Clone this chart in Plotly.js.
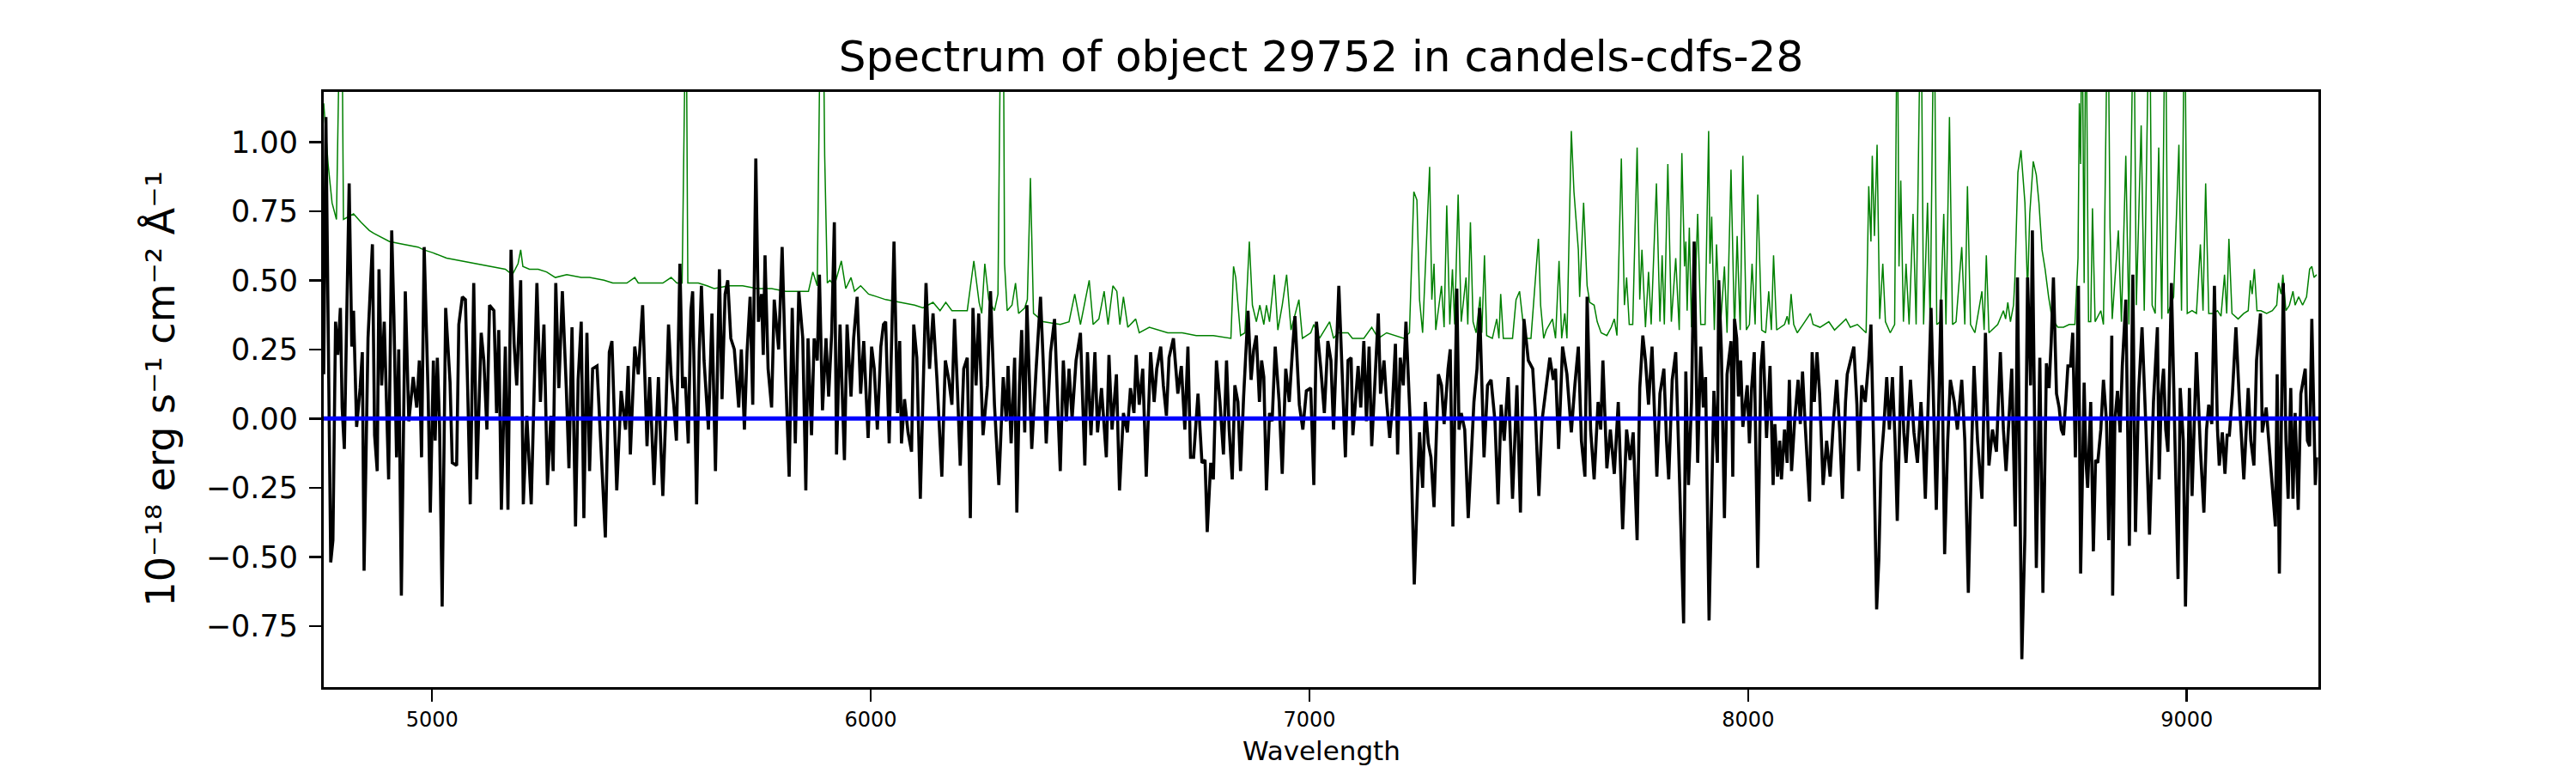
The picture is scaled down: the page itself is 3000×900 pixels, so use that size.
<!DOCTYPE html>
<html><head><meta charset="utf-8">
<script src="https://cdn.plot.ly/plotly-3.0.1.min.js"></script>
<style>html,body{margin:0;padding:0;background:#fff}</style>
</head><body>
<div id="chart" style="width:3000px;height:900px"></div>
<script>
// Observed flux (black), wavelengths in Angstrom
const fluxWave = [
4753,4758,4769,4774,4780,4785,4791,4795,4800,4804,4811,4817,4821,4828,4836,4841,4845,4854,4864,4869,4875,4879,4885,4891,4901,4908,4913,4919,4924,4930,4939,4947,4957,4965,4971,4976,4982,4991,4996,5003,5007,5012,5017,5023,5031,5041,5046,5056,5061,5069,5076,5081,5087,5095,5102,5112,5118,5125,5131,5141,5147,5152,5158,5167,5173,5180,5187,5193,5202,5208,5216,5226,5239,5247,5255,5263,5271,5276,5282,5289,5297,5306,5312,5319,5327,5333,5340,5346,5353,5359,5366,5376,5385,5395,5404,5410,5421,5431,5441,5447,5452,5462,5470,5480,5490,5496,5506,5516,
5521,5526,5532,5539,5545,5551,5557,5565,5571,5577,5584,5590,5594,5603,5609,5614,5620,5630,5638,5646,5655,5661,5668,5674,5681,5689,5699,5705,5712,5718,5725,5731,5738,5744,5751,5755,5759,5766,5774,5780,5790,5798,5806,5814,5821,5828,5836,5845,5852,5857,5865,5871,5878,5883,5890,5898,5904,5911,5917,5922,5930,5940,5946,5955,5961,5969,5977,5984,5994,6002,6008,6015,6023,6029,6034,6042,6053,6061,6066,6070,6077,6085,6093,6098,6105,6113,6119,6126,6134,6142,6151,6162,6170,6178,6185,6191,6198,6204,6212,6220,6227,6233,6240,6246,6256,6266,6273,6282,6292,
6302,6309,6313,6320,6328,6333,6339,6344,6351,6356,6363,6367,6377,6387,6393,6400,6410,6419,6426,6432,6439,6446,6452,6459,6468,6478,6488,6494,6502,6511,6517,6526,6537,6543,6550,6560,6567,6576,6585,6592,6600,6605,6612,6620,6628,6638,6646,6652,6661,6667,6674,6680,6690,6700,6708,6716,6723,6729,6736,6746,6755,6762,6767,6775,6781,6788,6796,6804,6811,6817,6824,6830,6837,6843,6850,6860,6867,6873,6879,6886,6891,6896,6902,6909,6915,6922,6931,6938,6946,6954,6961,6967,6977,6985,6993,7003,7010,7016,7026,7034,7042,7049,7055,7067,
7082,7088,7095,7099,7104,7111,7117,7124,7130,7136,7142,7149,7157,7162,7170,7176,7183,7189,7196,7201,7207,7214,7220,7230,7239,7247,7251,7258,7264,7271,7277,7284,7294,7301,7307,7312,7316,7321,7327,7336,7341,7346,7354,7362,7369,7375,7382,7388,7398,7406,7414,7423,7430,7437,7444,7449,7453,7463,7473,7481,7489,7499,7509,7515,7523,7530,7538,7548,7556,7561,7568,7577,7587,7597,7605,7613,7620,7628,7633,7641,7649,7658,7664,7669,7678,7686,7695,7704,7714,7723,7731,7738,7747,7753,7760,7766,7773,7781,7788,7792,7799,7808,7814,7819,7827,7835,
7842,7853,7858,7864,7871,7877,7885,7892,7898,7903,7911,7922,7930,7933,7939,7946,7952,7961,7965,7969,7974,7978,7983,7988,7998,8003,8008,8014,8022,8029,8034,8042,8050,8057,8061,8067,8072,8076,8083,8089,8094,8099,8106,8114,8119,8124,8130,8140,8146,8151,8157,8163,8171,8179,8187,8194,8202,8209,8215,8222,8226,8233,8241,8248,8252,8259,8267,8275,8280,8287,8293,8298,8303,8309,8316,8322,8329,8335,8340,8349,8355,8360,8370,8378,8386,8394,8399,8404,8411,8417,8429,8435,8440,8448,8455,8461,8470,8477,8487,8494,8502,8510,8515,8523,8533,8541,8549,8557,8566,8575,8582,8588,8595,8601,8609,8614,
8624,8631,8637,8644,8648,8657,8665,8672,8680,8686,8691,8696,8703,8709,8714,8719,8724,8729,8735,8740,8746,8753,8758,8766,8770,8774,8781,8787,8792,8797,8804,8810,8817,8822,8829,8831,8836,8842,8848,8853,8861,8869,8877,8883,8890,8898,8907,8915,8924,8933,8937,8942,8947,8952,8957,8965,8972,8980,8985,8992,8997,9006,9012,9022,9031,9039,9045,9050,9057,9063,9070,9074,9081,9087,9092,9097,9104,9112,9120,9130,9140,9146,9153,9159,9168,9172,9181,9192,9202,9206,9211,9220,9226,9231,9237,9242,9247,9254,9260,9270,9275,9280,9285,9293,9296
];
const fluxValue = [
0.16,1.09,-0.52,-0.44,0.35,0.23,0.40,0.04,-0.11,0.28,0.85,0.26,0.39,-0.03,0.11,0.24,-0.55,0.29,0.63,-0.06,-0.19,0.54,0.12,0.35,-0.22,0.68,0.37,-0.14,0.25,-0.64,0.46,-0.01,0.15,0.04,0.21,-0.14,0.62,0.09,-0.34,0.21,-0.08,0.22,-0.02,-0.68,0.40,0.13,-0.16,-0.17,0.34,0.44,0.43,0.12,-0.31,0.49,-0.22,0.31,0.21,-0.04,0.41,0.39,0.02,0.32,-0.33,0.26,-0.33,0.61,0.27,0.12,0.50,-0.31,0.01,-0.31,0.49,0.06,0.34,-0.24,0.01,-0.19,0.49,0.11,0.46,0.11,-0.18,0.33,-0.39,0.14,0.35,-0.36,0.31,-0.19,0.18,0.19,-0.11,-0.43,0.24,0.28,-0.26,0.10,-0.04,0.19,-0.13,0.26,0.16,0.41,-0.10,0.15,-0.24,0.15,
-0.08,-0.28,-0.02,0.34,0.15,0.05,-0.08,0.56,0.11,0.15,-0.09,0.39,0.46,-0.31,0.24,0.48,0.21,-0.04,0.38,-0.19,0.54,0.07,0.45,0.50,0.29,0.25,0.04,0.25,-0.04,0.24,0.44,0.05,0.94,0.35,0.45,0.23,0.59,0.18,0.04,0.43,0.25,0.62,0.16,-0.21,0.40,-0.09,0.46,0.29,-0.26,0.29,-0.06,0.29,0.21,0.52,0.03,0.29,0.08,0.31,0.71,-0.13,0.34,-0.15,0.34,0.08,0.29,0.44,0.09,0.28,-0.07,0.26,0.18,-0.04,0.26,0.34,0.35,-0.09,0.64,0.02,0.28,-0.09,0.07,-0.05,-0.12,0.34,0.22,-0.29,0.08,0.49,0.18,0.38,0.14,-0.21,0.21,0.14,0.05,0.36,0.09,-0.17,0.18,0.22,-0.36,0.40,0.12,0.38,-0.06,0.12,0.46,0.05,-0.24,
0.15,-0.01,0.19,-0.09,0.22,-0.34,0.12,0.32,-0.05,0.41,0.08,-0.11,0.18,0.44,0.21,-0.09,0.24,0.36,0.06,-0.19,0.21,-0.01,0.18,0.00,0.21,0.31,-0.17,0.24,-0.06,0.24,-0.05,0.11,-0.14,0.23,-0.04,0.16,-0.26,0.02,-0.05,0.11,0.02,0.23,0.05,0.18,-0.21,0.24,0.06,0.18,0.26,0.12,0.01,0.22,0.29,0.09,0.19,-0.04,0.26,-0.14,-0.14,0.09,-0.16,-0.15,-0.41,-0.16,-0.22,0.21,0.06,-0.13,0.21,-0.04,-0.22,0.12,0.06,-0.19,0.08,0.39,0.14,0.25,0.30,0.06,0.21,0.15,-0.26,0.02,-0.01,0.26,0.06,-0.20,0.18,0.06,0.24,0.37,0.05,-0.04,0.10,0.11,-0.24,0.35,0.18,0.02,0.28,0.21,-0.04,0.48,
-0.14,0.21,0.22,-0.06,0.04,0.19,0.04,0.28,-0.01,0.26,-0.10,0.12,0.38,0.09,0.21,0.06,-0.07,0.04,0.27,-0.13,0.22,0.12,0.35,-0.02,-0.60,-0.22,-0.05,-0.25,0.06,-0.09,-0.14,-0.32,0.16,0.12,-0.02,0.09,0.18,0.25,-0.39,0.47,-0.04,0.02,-0.04,-0.36,-0.15,0.06,0.18,0.40,-0.14,0.12,0.14,-0.01,-0.31,0.05,-0.08,0.04,0.15,-0.29,0.12,-0.34,0.36,0.21,0.18,0.02,-0.28,-0.01,0.09,0.22,0.14,0.18,-0.11,0.26,0.16,-0.05,0.12,0.26,-0.08,-0.21,0.44,-0.04,-0.22,0.06,-0.04,0.21,-0.18,-0.04,-0.20,0.06,-0.40,-0.04,-0.15,-0.05,-0.44,0.11,0.30,0.21,0.05,0.26,-0.04,-0.21,0.09,0.18,-0.08,-0.22,0.14,0.24,
-0.13,-0.74,0.17,-0.24,0.06,0.64,-0.16,0.26,0.04,0.15,-0.73,0.10,-0.16,0.50,0.25,-0.36,0.16,0.28,-0.21,0.36,0.29,0.08,0.21,-0.03,0.12,-0.09,0.11,0.24,-0.54,0.18,0.28,-0.07,0.19,-0.24,-0.02,-0.21,-0.08,-0.22,-0.04,-0.16,0.14,-0.19,-0.01,0.14,-0.02,0.17,-0.02,-0.30,0.24,0.06,0.24,0.09,-0.24,-0.08,-0.21,-0.02,0.14,-0.05,-0.29,0.06,0.16,0.21,0.26,0.05,-0.19,0.12,0.06,0.21,0.34,-0.15,-0.69,-0.51,-0.16,-0.04,0.15,-0.04,0.15,-0.08,-0.37,0.19,-0.05,-0.16,0.14,-0.05,-0.16,0.06,-0.08,-0.29,0.06,0.40,-0.33,0.06,0.43,-0.49,-0.08,0.14,0.06,-0.04,0.14,-0.08,-0.63,-0.08,0.19,-0.08,-0.29,0.31,-0.17,-0.04,-0.12,0.24,-0.04,-0.19,-0.01,0.18,-0.39,0.51,
-0.87,-0.42,0.51,0.12,0.68,-0.54,0.22,-0.63,0.20,0.11,0.28,0.51,0.09,0.04,-0.04,-0.06,0.06,0.19,0.19,0.31,-0.14,0.48,-0.56,0.13,-0.15,-0.25,0.06,-0.48,-0.15,-0.16,-0.04,0.14,-0.01,-0.44,0.30,-0.64,-0.01,0.10,-0.05,0.19,0.43,-0.46,0.52,-0.41,0.09,0.33,-0.04,-0.42,0.06,0.33,-0.22,0.09,0.18,-0.04,-0.12,0.49,-0.01,-0.58,0.11,-0.08,-0.68,0.11,-0.28,0.24,-0.11,-0.34,-0.04,0.05,-0.02,0.48,-0.04,-0.17,-0.05,-0.20,-0.06,-0.06,0.09,0.33,0.06,-0.22,0.11,-0.08,-0.17,0.21,0.38,-0.05,0.04,-0.17,-0.39,0.16,-0.56,0.49,-0.08,-0.29,0.11,-0.29,0.02,-0.33,0.09,0.18,-0.08,-0.10,0.36,-0.24,-0.14
];
// Noise / sky spectrum (green)
const skyWave = [
4753,4763,4772,4782,4791,4794,4798,4821,4838,4857,4867,4880,4903,4935,4968,4981,5001,5033,5066,5098,5131,5167,5183,5196,5202,5207,5222,5242,5261,5281,5307,5340,5359,5392,5412,5444,5462,5470,5503,
5526,5545,5558,5570,5575,5579,5583,5594,5607,5627,5643,5676,5708,5741,5774,5806,5839,5858,5868,5878,5886,5891,5895,5901,5907,5917,5933,5943,5955,5963,5977,5995,6015,6034,6067,6100,6119,6142,6158,6171,6185,6204,6220,6235,6247,6253,6260,6269,6282,6290,
6297,6302,6305,6311,6322,6330,6337,6351,6357,6364,6371,6393,6432,6452,6465,6478,6498,6507,6520,6532,6541,6552,6561,6568,6576,6586,6604,6612,6635,6677,6710,6742,6781,6821,6827,6832,6843,6853,6863,6870,6879,6887,6896,6902,6909,6920,6928,6938,6948,6958,6976,6984,7003,7010,7023,7046,7055,
7065,7088,7098,7124,7142,7157,7176,7196,7215,7228,7238,7245,7251,7258,7274,7279,7284,7288,7301,7307,7313,7320,7326,7331,7339,7346,7357,7361,7367,7373,7380,7389,7393,7399,7404,7417,7427,7432,7436,7442,7463,7471,7479,7486,7492,7505,7522,7527,7534,7540,7554,7561,7569,7575,7582,7587,7597,7603,7613,7616,7625,7633,7639,7649,7656,7665,7678,7688,7695,7701,7711,7718,7723,7729,7737,7747,7753,7758,7766,7773,7779,7791,7799,7804,7809,7817,7825,7835,
7843,7849,7855,7858,7861,7866,7871,7877,7885,7892,7902,7910,7913,7917,7923,7928,7936,7946,7952,7961,7969,7975,7982,7988,7996,8003,8009,8016,8022,8031,8040,8047,8053,8058,8065,8083,8089,8093,8098,8104,8112,8125,8133,8142,8148,8164,8184,8197,8223,8233,8249,8269,8275,8280,8283,8288,8294,8300,8307,8313,8324,8334,8340,8344,8348,8354,8360,8367,8376,8383,8394,8400,8409,8415,8424,8430,8438,8446,8451,8459,8466,8474,8487,8494,8500,8507,8517,8533,8538,8543,8549,8569,8582,8587,8592,8598,8605,
8608,8615,8622,8631,8637,8642,8650,8657,8663,8670,8677,8685,8693,8706,8719,8732,8745,8752,8755,8758,8761,8766,8770,8776,8781,8785,8791,8804,8810,8820,8825,8830,8844,8851,8861,8868,8879,8885,8896,8903,8915,8921,8928,8936,8943,8951,8957,8970,8982,8988,8995,9001,9012,9022,9031,9037,9043,9050,9061,9070,9078,9086,9091,9096,9103,9117,9130,9140,9145,9149,9154,9160,9169,9182,9195,9205,9209,9215,9219,9226,9234,9242,9247,9255,9264,9273,9280,9285,9290,9296
];
const skyValue = [
1.14,0.92,0.78,0.72,1.6,1.6,0.72,0.74,0.71,0.68,0.67,0.66,0.64,0.63,0.62,0.61,0.60,0.58,0.57,0.56,0.55,0.54,0.52,0.56,0.61,0.55,0.54,0.54,0.53,0.51,0.52,0.51,0.51,0.50,0.49,0.49,0.51,0.49,0.49,
0.49,0.51,0.49,0.49,1.6,1.6,0.49,0.49,0.49,0.48,0.47,0.48,0.48,0.47,0.47,0.46,0.46,0.46,0.53,0.48,1.6,1.6,0.95,0.49,0.50,0.48,0.57,0.47,0.51,0.46,0.48,0.45,0.44,0.43,0.42,0.41,0.40,0.42,0.39,0.42,0.39,0.39,0.39,0.57,0.42,0.38,0.56,0.43,0.39,0.45,
1.6,1.6,0.56,0.39,0.41,0.49,0.38,0.40,0.43,0.87,0.38,0.35,0.34,0.35,0.45,0.34,0.50,0.34,0.36,0.46,0.34,0.48,0.46,0.34,0.44,0.33,0.36,0.31,0.33,0.31,0.31,0.30,0.30,0.29,0.55,0.51,0.30,0.31,0.64,0.41,0.35,0.41,0.34,0.41,0.35,0.52,0.32,0.41,0.52,0.32,0.43,0.29,0.31,0.34,0.29,0.35,0.29,
0.31,0.31,0.29,0.29,0.33,0.29,0.31,0.30,0.29,0.31,0.82,0.79,0.43,0.31,0.91,0.43,0.56,0.32,0.48,0.33,0.77,0.34,0.54,0.34,0.81,0.35,0.51,0.34,0.71,0.35,0.31,0.44,0.31,0.59,0.30,0.29,0.36,0.29,0.45,0.29,0.29,0.43,0.46,0.36,0.29,0.29,0.65,0.41,0.29,0.32,0.36,0.29,0.57,0.29,0.38,0.29,1.04,0.82,0.61,0.44,0.78,0.48,0.42,0.41,0.35,0.31,0.30,0.33,0.36,0.30,0.94,0.41,0.51,0.34,0.34,0.98,0.43,0.61,0.33,0.53,0.34,0.85,0.35,0.59,0.34,0.92,0.35,0.58,
0.32,0.96,0.55,0.64,0.39,0.69,0.33,0.35,0.74,0.34,0.34,1.04,0.56,0.73,0.32,0.63,0.31,0.55,0.31,0.90,0.31,0.66,0.32,0.95,0.32,0.34,0.56,0.34,0.81,0.32,0.31,0.46,0.32,0.59,0.32,0.34,0.37,0.34,0.45,0.34,0.31,0.34,0.36,0.38,0.34,0.33,0.35,0.32,0.36,0.33,0.34,0.31,0.84,0.64,0.95,0.66,0.99,0.36,0.56,0.35,0.31,0.34,1.6,0.55,0.86,0.35,0.56,0.34,0.74,0.34,1.6,0.34,0.78,0.34,1.6,0.34,0.35,0.74,0.34,1.09,0.34,0.35,0.62,0.34,0.84,0.34,0.31,0.46,0.32,0.59,0.31,0.34,0.39,0.36,0.42,0.35,0.41,
0.50,0.89,0.97,0.78,0.46,0.74,0.93,0.88,0.78,0.61,0.54,0.44,0.36,0.33,0.33,0.34,0.34,0.58,1.14,0.92,1.6,0.49,1.6,0.35,0.35,0.76,0.35,0.39,0.34,1.6,0.69,0.36,0.68,0.35,0.95,0.34,1.6,0.41,1.06,0.39,1.6,0.41,0.38,0.98,0.36,1.6,0.38,0.44,0.99,0.39,1.6,0.38,0.39,0.38,0.63,0.39,0.85,0.38,0.38,0.39,0.37,0.52,0.38,0.65,0.38,0.36,0.38,0.39,0.50,0.45,0.54,0.39,0.39,0.38,0.39,0.41,0.49,0.45,0.52,0.39,0.41,0.46,0.41,0.44,0.41,0.44,0.54,0.55,0.51,0.52
];
// Model (blue), flat at zero
const modelWave = [4753, 9300];
const modelValue = [0, 0];

const xTickVals = [5000, 6000, 7000, 8000, 9000];
const xTickText = ['5000', '6000', '7000', '8000', '9000'];
const yTickVals = [-0.75, -0.5, -0.25, 0, 0.25, 0.5, 0.75, 1.0];
const yTickText = ['\u22120.75', '\u22120.50', '\u22120.25', '0.00', '0.25', '0.50', '0.75', '1.00'];

const traces = [
  {x: skyWave, y: skyValue, type: 'scatter', mode: 'lines', line: {color: '#008000', width: 1.5}, hoverinfo: 'skip'},
  {x: fluxWave, y: fluxValue, type: 'scatter', mode: 'lines', line: {color: '#000000', width: 3.6}, hoverinfo: 'skip'},
  {x: modelWave, y: modelValue, type: 'scatter', mode: 'lines', line: {color: '#0000ff', width: 5}, hoverinfo: 'skip'}
];

const axisCommon = {
  ticks: 'outside', ticklen: 14, tickwidth: 2.5, tickcolor: '#000',
  showline: true, linewidth: 3, linecolor: '#000', mirror: true,
  showgrid: false, zeroline: false, fixedrange: true
};

const layout = {
  width: 3000, height: 900,
  margin: {l: 377, r: 300, t: 107, b: 100, pad: 0},
  paper_bgcolor: '#ffffff', plot_bgcolor: '#ffffff',
  showlegend: false,
  font: {family: 'DejaVu Sans', color: '#000000'},
  title: {
    text: 'Spectrum of object 29752 in candels-cdfs-28',
    font: {size: 50, family: 'DejaVu Sans', color: '#000'},
    x: 0.5, xref: 'paper', xanchor: 'center',
    y: 1 - 65 / 900, yref: 'container', yanchor: 'middle'
  },
  xaxis: Object.assign({}, axisCommon, {
    range: [4753, 9300], tickmode: 'array', tickvals: xTickVals, ticktext: xTickText,
    tickfont: {size: 24, family: 'DejaVu Sans', color: '#000'}
  }),
  yaxis: Object.assign({}, axisCommon, {
    range: [-0.971, 1.181], tickmode: 'array', tickvals: yTickVals, ticktext: yTickText,
    ticklabelstandoff: 6,
    tickfont: {size: 35, family: 'DejaVu Sans', color: '#000'}
  }),
  annotations: [
    {text: '10\u207b\u00b9\u2078 erg s\u207b\u00b9 cm\u207b\u00b2 \u00c5\u207b\u00b9',
     xref: 'paper', yref: 'paper', x: (186 - 377) / 2323, y: 0.5, xanchor: 'center', yanchor: 'middle',
     textangle: -90, showarrow: false, font: {size: 46, family: 'DejaVu Sans', color: '#000'}},
    {text: 'Wavelength', xref: 'paper', yref: 'paper', x: 0.5, y: -(874 - 800) / 693,
     xanchor: 'center', yanchor: 'middle', showarrow: false,
     font: {size: 31, family: 'DejaVu Sans', color: '#000'}}
  ]
};

Plotly.newPlot('chart', traces, layout, {staticPlot: true, displayModeBar: false});
</script>
</body></html>
